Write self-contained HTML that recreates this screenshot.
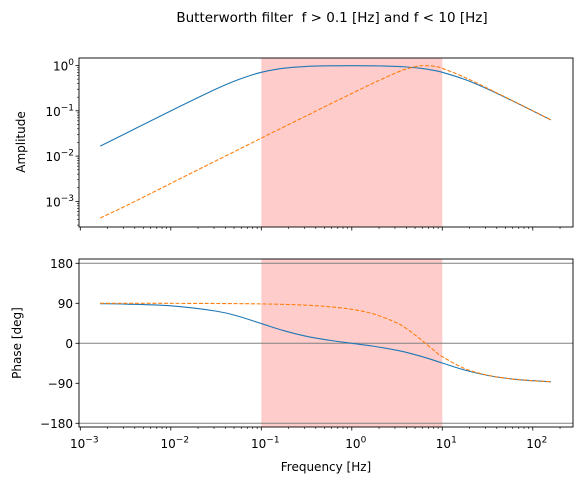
<!DOCTYPE html>
<html><head><meta charset="utf-8"><style>
html,body{margin:0;padding:0;background:#fff}
svg{display:block;font-family:"DejaVu Sans","Liberation Sans",sans-serif}
</style></head><body>
<svg id="fig" width="583" height="485" viewBox="0 0 583 485">
<text x="332" y="22" text-anchor="middle" font-size="13.5" fill="#000">Butterworth filter&#160; f &gt; 0.1 [Hz] and f &lt; 10 [Hz]</text>
<g id="top"></g>
<g id="bot"></g>
<text x="25" y="142" transform="rotate(-90 25 142)" text-anchor="middle" font-size="12">Amplitude</text>
<text x="21" y="343" transform="rotate(-90 21 343)" text-anchor="middle" font-size="12">Phase [deg]</text>
<text x="326" y="471" text-anchor="middle" font-size="12">Frequency [Hz]</text>
</svg>
<script>
const freqLog = [-2.78,-2.5,-2,-1.5,-1.25,-1,-0.75,-0.5,-0.25,0,0.25,0.5,0.6,0.75,0.9,1,1.25,1.5,1.75,2,2.2];
const bandAmp = [.0166,.0316,.0995,.302,.490,.707,.872,.952,.983,.990,.983,.953,.929,.872,.783,.707,.490,.302,.175,.0995,.063];
const bandPhase = [89.05,88.2,84.3,72.4,60.6,44.4,28.4,15.7,6.9,0,-6.9,-15.7,-20.3,-28.4,-37.7,-44.4,-60.3,-72.2,-79.8,-84.2,-86.4];
const butterAmp = [4.3e-4,7.9e-4,.0025,.0079,.014,.025,.0441,.0778,.1378,.2406,.42,.705,.835,.983,.9675,.866,.545,.3135,.1775,.0999,.063];
const butterPhase = [89.98,89.96,89.86,89.57,89.24,88.6,87.6,85.7,82.4,76.4,65.5,45.6,33.6,10.7,-14.7,-30,-57,-71.7,-79.8,-84.3,-86.4];
const spanLow = 0.1, spanHigh = 10;
const xTickExp = [-3,-2,-1,0,1,2];
const ampTickExp = [0,-1,-2,-3];
const phaseTicks = [180,90,0,-90,-180];
const refLines = [180,0,-180];

const NS="http://www.w3.org/2000/svg";
const L=79,R=573;
const xs = lg => 80.3 + (lg+3)*90.5;
const T1=58,B1=227,T2=259,B2=427;
const yAmp = v => 65.5 - Math.log10(v)*45.3;
const yPh = v => 343.3 - v*(40/90);
function mk(p,tag,attrs){const e=document.createElementNS(NS,tag);for(const k in attrs)e.setAttribute(k,attrs[k]);p.appendChild(e);return e;}
function smooth(pts){let d=`M${pts[0][0]},${pts[0][1]}`;for(let i=0;i<pts.length-1;i++){const p0=pts[Math.max(0,i-1)],p1=pts[i],p2=pts[i+1],p3=pts[Math.min(pts.length-1,i+2)];
const c1=[p1[0]+(p2[0]-p0[0])/6,p1[1]+(p2[1]-p0[1])/6],c2=[p2[0]-(p3[0]-p1[0])/6,p2[1]-(p3[1]-p1[1])/6];d+=` C${c1[0]},${c1[1]} ${c2[0]},${c2[1]} ${p2[0]},${p2[1]}`;}return d;}
function sup(p,x,y,e,name){const t=mk(p,'text',{x:x,y:y,'text-anchor':'middle','font-size':'12'});


const a=document.createElementNS(NS,'tspan');a.textContent='10';t.appendChild(a);const b=document.createElementNS(NS,'tspan');b.setAttribute('dy','-5.5');b.setAttribute('font-size','9');b.textContent=(e<0?'\u2212':'')+Math.abs(e);t.appendChild(b);return t;}

function xticks(g,B,labels){
  for(let e=-3;e<=2;e++){for(let m=1;m<10;m++){const lg=e+Math.log10(m);const x=xs(lg);if(x<L||x>R)continue;
    const t=mk(g,'line',{x1:x,x2:x,y1:B,y2:B+(m===1?3.5:2),stroke:'#000','stroke-width':m===1?0.8:0.6});
    
    }}
  if(labels) xTickExp.forEach(e=>sup(g,xs(e)+4,B+21,e,'x-tick-label'));
}
function panel(g,T,B,ampMode){
  const sp=mk(g,'rect',{x:xs(Math.log10(spanLow)),y:T,width:xs(Math.log10(spanHigh))-xs(Math.log10(spanLow)),height:B-T,fill:'#ffcccc'});
  
  
  const yf = ampMode?yAmp:yPh;
  if(!ampMode) refLines.forEach(v=>{const l=mk(g,'line',{x1:L,x2:R,y1:yf(v),y2:yf(v),stroke:'#808080','stroke-width':1});
    
    });
  const A=ampMode?bandAmp:bandPhase, Bv=ampMode?butterAmp:butterPhase;
  const p1=mk(g,'path',{d:smooth(freqLog.map((f,i)=>[xs(f),yf(A[i])])),fill:'none',stroke:'#1f77b4','stroke-width':1.1});
  
  
  const p2=mk(g,'path',{d:smooth(freqLog.map((f,i)=>[xs(f),yf(Bv[i])])),fill:'none',stroke:'#ff7f0e','stroke-width':1.1,'stroke-dasharray':'4,1.8'});
  
  
  const fr=mk(g,'rect',{x:L,y:T,width:R-L,height:B-T,fill:'none',stroke:'#000','stroke-width':0.9});
  
  
  if(ampMode){
    for(let e=-4;e<=0;e++)for(let m=1;m<10;m++){const y=yAmp(Math.pow(10,e)*m);if(y<T||y>B)continue;
      const t=mk(g,'line',{x1:L-(m===1?3.5:2),x2:L,y1:y,y2:y,stroke:'#000','stroke-width':m===1?0.8:0.6});
      
      }
    ampTickExp.forEach(e=>{const t=sup(g,0,yAmp(Math.pow(10,e))+5,e,'y-tick-label');t.setAttribute('text-anchor','end');t.setAttribute('x',L-5);});
  } else {
    phaseTicks.forEach(v=>{const y=yPh(v);
      const t=mk(g,'line',{x1:L-3.5,x2:L,y1:y,y2:y,stroke:'#000','stroke-width':0.8});
      
      
      const lb=mk(g,'text',{x:L-6,y:y+4.5,'text-anchor':'end','font-size':'12'});
      
      
      lb.textContent=(v<0?'\u2212':'')+Math.abs(v);});
  }
  xticks(g,B,!ampMode);
}
panel(document.getElementById('top'),T1,B1,true);
panel(document.getElementById('bot'),T2,B2,false);
</script>
</body></html>
